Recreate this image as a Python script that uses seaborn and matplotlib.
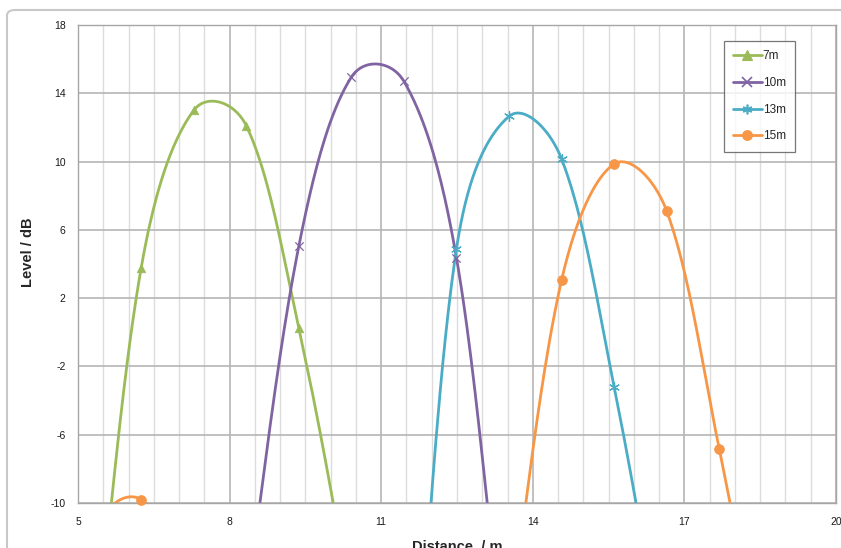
import numpy as np
import pandas as pd
import matplotlib
matplotlib.use('Agg')
import matplotlib.pyplot as plt
from matplotlib.lines import Line2D
from matplotlib.patches import FancyBboxPatch
from matplotlib.ticker import MultipleLocator
import seaborn as sns

# distance grid of the measurement points (m)
distance = [4.17, 5.21, 6.25, 7.29, 8.33, 9.37, 10.41, 11.45, 12.49, 13.53, 14.57, 15.61, 16.65, 17.69, 18.73, 19.77]

# level in dB for each source distance (values below -10 are off the chart)
level_7m = [-45, -22.2, 3.77, 13.0, 12.1, 0.25, -16, -35, -45, -45, -45, -45, -45, -45, -45, -45]
level_10m = [-45, -45, -45, -40, -16, 5.05, 14.95, 14.7, 4.35, -21, -40, -45, -45, -45, -45, -45]
level_13m = [-45, -45, -45, -45, -45, -45, -45, -28.2, 4.9, 12.65, 10.15, -3.2, -20.5, -40, -45, -45]
level_15m = [-40, -13, -9.8, -17, -40, -45, -45, -45, -40, -17.3, 3.06, 9.86, 7.1, -6.84, -23, -40]

series_names = ['7m', '10m', '13m', '15m']
series_levels = [level_7m, level_10m, level_13m, level_15m]
colors = ['#9BBB59', '#8064A2', '#4BACC6', '#F79646']

x_ticks = [5, 8, 11, 14, 17, 20]
y_ticks = [-10, -6, -2, 2, 6, 10, 14, 18]

# pixel size of one unit on each axis, used for the excel-like smoothing
PX_X = 758 / 15
PX_Y = 478 / 28


def smooth(xs, ys, n=40):
    # bezier through the points, control arms scaled by segment length (like excel)
    px = np.r_[xs[0], xs, xs[-1]] * PX_X
    py = np.r_[ys[0], ys, ys[-1]] * PX_Y
    d = np.sqrt(np.hypot(np.diff(px), np.diff(py)))
    t = np.linspace(0, 1, n, endpoint=False)[:, None]
    ox, oy = [], []
    for i in range(1, len(px) - 2):
        p0 = np.array([px[i - 1], py[i - 1]])
        p1 = np.array([px[i], py[i]])
        p2 = np.array([px[i + 1], py[i + 1]])
        p3 = np.array([px[i + 2], py[i + 2]])
        d01, d12, d23 = d[i - 1], d[i], d[i + 1]
        f1 = d12 / (d01 + d12) / 3 if d01 + d12 > 0 else 0
        f2 = d12 / (d12 + d23) / 3 if d12 + d23 > 0 else 0
        c1 = p1 + (p2 - p0) * f1
        c2 = p2 - (p3 - p1) * f2
        b = (1 - t)**3 * p1 + 3 * (1 - t)**2 * t * c1 + 3 * (1 - t) * t**2 * c2 + t**3 * p2
        ox.append(b[:, 0])
        oy.append(b[:, 1])
    ox.append([px[-2]])
    oy.append([py[-2]])
    return np.concatenate(ox) / PX_X, np.concatenate(oy) / PX_Y


rows = []
for name, lev in zip(series_names, series_levels):
    sx, sy = smooth(np.array(distance, float), np.array(lev, float))
    rows.append(pd.DataFrame({'Distance': sx, 'Level': sy, 'Serie': name}))
curves = pd.concat(rows, ignore_index=True)

points = pd.DataFrame({
    'Distance': np.tile(distance, 4),
    'Level': np.concatenate(series_levels),
    'Serie': np.repeat(series_names, len(distance)),
})
points = points[points['Level'] >= -10]

sns.set_style('white')
plt.rcParams['font.family'] = ['Liberation Sans', 'DejaVu Sans']
plt.rcParams['axes.unicode_minus'] = False

fig = plt.figure(figsize=(8.41, 5.48), dpi=100)
ax = fig.add_axes([78 / 841, 1 - 503 / 548, 758 / 841, 478 / 548])

sns.lineplot(data=curves, x='Distance', y='Level', hue='Serie', palette=colors,
             hue_order=series_names, sort=False, estimator=None, legend=False,
             linewidth=2.0, ax=ax)

marker_style = {
    '7m': dict(marker='^', s=38, linewidth=0.5),
    '10m': dict(marker='x', s=36, linewidth=0.9),
    '13m': dict(marker=(6, 2, 0), s=50, linewidth=0.9),
    '15m': dict(marker='o', s=50, linewidth=0.5),
}
for name, col in zip(series_names, colors):
    sub = points[points['Serie'] == name]
    st = marker_style[name]
    sns.scatterplot(data=sub, x='Distance', y='Level', color=col, edgecolor=col,
                    marker=st['marker'], s=st['s'], linewidth=st['linewidth'],
                    clip_on=False, zorder=5, legend=False, ax=ax)

ax.set_xlim(5, 20)
ax.set_ylim(-10, 18)
ax.set_xticks(x_ticks)
ax.set_yticks(y_ticks)
ax.xaxis.set_minor_locator(MultipleLocator(0.5))
ax.grid(True, which='major', color='#b5b5b5', linewidth=1.2)
ax.grid(True, which='minor', axis='x', color='#dcdcdc', linewidth=1.0)
ax.set_axisbelow(True)
for sp in ax.spines.values():
    sp.set_color('#a6a6a6')
    sp.set_linewidth(1.0)
ax.tick_params(axis='both', which='major', direction='out', length=3, width=1,
               color='#a6a6a6', labelsize=7.5, labelcolor='#1a1a1a')
ax.tick_params(axis='x', which='major', pad=7)
ax.tick_params(axis='y', which='major', pad=6)
ax.tick_params(axis='x', which='minor', length=0)

ax.set_xlabel('Distance  / m', fontsize=10.5, fontweight='bold')
ax.set_ylabel('Level / dB', fontsize=10.5, fontweight='bold')
ax.xaxis.set_label_coords(0.5, -0.077)
ax.yaxis.set_label_coords(-0.057, 0.525)

handles = []
for name, col in zip(series_names, colors):
    st = marker_style[name]
    handles.append(Line2D([], [], color=col, linewidth=2.0, marker=st['marker'],
                          markersize=7, markeredgewidth=st['linewidth'] + 0.3,
                          markeredgecolor=col, markerfacecolor=col))
leg = ax.legend(handles, series_names, loc='upper left', bbox_to_anchor=(0.852, 0.967),
                fontsize=8.5, frameon=True, fancybox=False, edgecolor='#555555',
                handlelength=2.4, handletextpad=0.1, labelspacing=1.25,
                borderpad=0.8, borderaxespad=0)
leg.get_frame().set_linewidth(0.9)

# outer chart border
fig.patches.append(FancyBboxPatch((7 / 841, -0.1), 1.1, 1 - 10 / 548 + 0.1,
                                  boxstyle='round,pad=0,rounding_size=0.01',
                                  transform=fig.transFigure, fill=False,
                                  edgecolor='#c8c8c8', linewidth=1.5))

plt.savefig('out.png', dpi=100)
